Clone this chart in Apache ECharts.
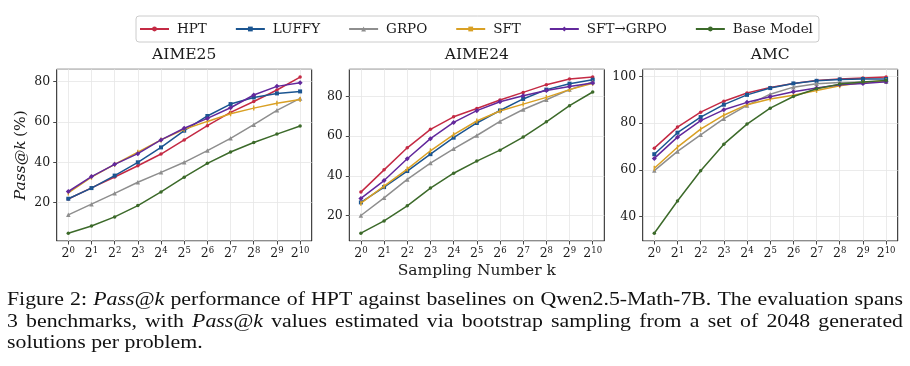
<!DOCTYPE html>
<html><head><meta charset="utf-8">
<script src="https://cdn.jsdelivr.net/npm/echarts@6/dist/echarts.min.js"></script>
<style>html,body{margin:0;padding:0;background:#fff}#c{width:910px;height:366px}</style>
</head><body><div id="c"></div><script>
// ---------- data ----------
const kExponents = ['0','1','2','3','4','5','6','7','8','9','10'];
const benchmarks = ['AIME25', 'AIME24', 'AMC'];
const methods = ['HPT', 'LUFFY', 'GRPO', 'SFT', 'SFT→GRPO', 'Base Model'];

const aime25HPT   = [21.8, 27.3, 32.7, 38.3, 44.1, 51.1, 58.2, 64.8, 70.2, 75.9, 82.3];
const aime25LUFFY = [21.9, 27.2, 33.4, 40.0, 47.4, 55.7, 63.0, 68.9, 72.2, 74.2, 75.2];
const aime25GRPO  = [13.9, 19.2, 24.6, 30.1, 35.0, 40.0, 45.8, 51.9, 58.7, 65.8, 71.7];
const aime25SFT   = [24.8, 32.6, 39.0, 45.0, 51.1, 56.4, 60.3, 64.1, 66.9, 69.3, 71.2];
const aime25SFTGRPO = [25.5, 32.9, 39.0, 44.3, 51.1, 56.9, 61.8, 67.1, 73.4, 77.7, 79.5];
const aime25Base  = [4.8, 8.4, 12.9, 18.5, 25.3, 32.6, 39.5, 45.1, 49.8, 54.0, 58.0];

const aime24HPT   = [31.8, 43.0, 54.1, 63.4, 69.7, 73.9, 78.2, 82.0, 85.9, 88.7, 89.7];
const aime24LUFFY = [26.6, 34.3, 42.4, 50.9, 59.2, 66.6, 72.9, 78.7, 83.4, 86.4, 88.4];
const aime24GRPO  = [20.0, 28.9, 38.2, 46.4, 53.6, 60.3, 67.4, 73.4, 78.3, 83.4, 87.2];
const aime24SFT   = [26.2, 34.8, 43.4, 52.6, 60.7, 67.6, 72.6, 76.1, 79.5, 83.4, 86.6];
const aime24SFTGRPO = [28.6, 37.6, 48.6, 58.7, 66.9, 72.8, 77.3, 80.3, 83.0, 85.0, 86.7];
const aime24Base  = [11.1, 17.3, 24.9, 33.8, 41.3, 47.4, 52.9, 59.5, 67.2, 75.3, 82.2];

const amcHPT   = [69.3, 78.3, 84.7, 89.4, 92.9, 95.3, 97.0, 98.3, 98.9, 99.3, 99.7];
const amcLUFFY = [66.7, 75.9, 82.6, 87.9, 92.1, 95.0, 97.0, 98.1, 98.7, 98.9, 98.9];
const amcGRPO  = [59.7, 67.9, 75.0, 81.9, 87.6, 92.4, 95.4, 96.9, 97.4, 97.6, 97.7];
const amcSFT   = [60.7, 69.7, 77.4, 83.4, 87.9, 90.3, 91.9, 94.0, 96.0, 97.4, 98.1];
const amcSFTGRPO = [64.9, 74.0, 81.1, 85.7, 88.9, 91.3, 93.4, 95.0, 96.4, 97.0, 97.7];
const amcBase  = [32.9, 46.7, 59.6, 71.0, 79.6, 86.4, 91.4, 94.7, 96.7, 97.6, 98.3];

const panelData = [
  [aime25HPT, aime25LUFFY, aime25GRPO, aime25SFT, aime25SFTGRPO, aime25Base],
  [aime24HPT, aime24LUFFY, aime24GRPO, aime24SFT, aime24SFTGRPO, aime24Base],
  [amcHPT, amcLUFFY, amcGRPO, amcSFT, amcSFTGRPO, amcBase]
];

const captionLines = [
  [['Figure', 0], ['2:', 0], ['Pass@k', 1], ['performance', 0], ['of', 0], ['HPT', 0], ['against', 0], ['baselines', 0], ['on', 0], ['Qwen2.5-Math-7B.', 0], ['The', 0], ['evaluation', 0], ['spans', 0]],
  [['3', 0], ['benchmarks,', 0], ['with', 0], ['Pass@k', 1], ['values', 0], ['estimated', 0], ['via', 0], ['bootstrap', 0], ['sampling', 0], ['from', 0], ['a', 0], ['set', 0], ['of', 0], ['2048', 0], ['generated', 0]],
  [['solutions', 0], ['per', 0], ['problem.', 0]]
];

// ---------- styles ----------
const colors = ['#c42a44', '#1b5591', '#8e8e8e', '#d9a024', '#62289c', '#3c6a2a'];
const symbols = ['circle', 'rect', 'triangle', 'path://M0,0L1,0L1,6L0,6Z', 'diamond', 'circle'];
const symbolSizes = [3.5, 4, 4.5, [1.4, 5], 5, 3.5];
const SERIF = '"DejaVu Serif", serif';
const gridLefts = [56.7, 349.3, 642.7];
const GRID_W = 255, GRID_TOP = 69.3, GRID_H = 171.7;
const INK = '#1a1a1a';

function yRange(arrs) {
  const all = [].concat(...arrs);
  const lo = Math.min(...all), hi = Math.max(...all);
  const m = (hi - lo) * 0.05;
  return [lo - m, hi + m];
}

const grids = [], xAxes = [], yAxes = [], series = [], titles = [];
benchmarks.forEach((b, gi) => {
  grids.push({ left: gridLefts[gi], top: GRID_TOP, width: GRID_W, height: GRID_H,
    show: true, borderColor: INK, borderWidth: 1, backgroundColor: 'transparent', containLabel: false });
  xAxes.push({ type: 'category', gridIndex: gi, data: kExponents, boundaryGap: true,
    axisLine: { show: false },
    axisTick: { show: true, alignWithLabel: true, length: 3.5, lineStyle: { color: INK, width: 0.8 } },
    splitLine: { show: true, alignWithLabel: true, lineStyle: { color: '#e6e6e6', width: 0.8 } },
    axisLabel: { interval: 0, margin: 5, color: INK,
      formatter: v => '{b|2}{e|' + v + '}',
      rich: { b: { fontFamily: SERIF, fontSize: 12.5, color: INK },
              e: { fontFamily: SERIF, fontSize: 8.5, color: INK, padding: [0, 0, 6, 0] } } } });
  const r = yRange(panelData[gi]);
  yAxes.push({ type: 'value', gridIndex: gi, min: r[0], max: r[1], minInterval: 20, maxInterval: 20,
    axisLine: { show: false },
    axisTick: { show: true, length: 3.5, lineStyle: { color: INK, width: 0.8 } },
    splitLine: { show: true, lineStyle: { color: '#e6e6e6', width: 0.8 } },
    axisLabel: { showMinLabel: false, showMaxLabel: false, margin: 6.5, fontFamily: SERIF, fontSize: 12.5, color: INK } });
  titles.push({ text: b, left: gridLefts[gi] + GRID_W / 2, top: 47, textAlign: 'center', padding: 0,
    textStyle: { fontFamily: SERIF, fontSize: 15.5, fontWeight: 'normal', color: INK } });
  methods.forEach((m, si) => {
    series.push({ type: 'line', name: m, xAxisIndex: gi, yAxisIndex: gi, data: panelData[gi][si],
      symbol: symbols[si], symbolSize: symbolSizes[si], showSymbol: true, smooth: false,
      color: colors[si], lineStyle: { width: 1.5, color: colors[si] },
      itemStyle: { color: colors[si], borderWidth: 0 }, animation: false, z: 2 + si });
  });
});

// ---------- caption (justified words) ----------
const CAP_FONT = '"Liberation Serif", serif';
const CAP_SIZE = 19.5;
const CAP_X0 = 7, CAP_X1 = 903, capBaselines = [310, 332, 353];
const cv = document.createElement('canvas').getContext('2d');
function wWidth(t, it) { cv.font = (it ? 'italic ' : '') + CAP_SIZE + 'px ' + CAP_FONT; return cv.measureText(t).width; }
function lineWidth(words) {
  let w = 0; words.forEach(p => w += wWidth(p[0], p[1]));
  return w + (words.length - 1) * wWidth(' ', 0);
}
const capScale = Math.max(1, Math.min(1.2, 0.99 * (CAP_X1 - CAP_X0) / lineWidth(captionLines[0])));
const graphics = [];
captionLines.forEach((words, li) => {
  const widths = words.map(p => wWidth(p[0], p[1]) * capScale);
  const total = widths.reduce((a, c) => a + c, 0);
  const justify = li < captionLines.length - 1;
  const gap = justify ? (CAP_X1 - CAP_X0 - total) / (words.length - 1) : wWidth(' ', 0) * capScale;
  let x = CAP_X0;
  words.forEach((p, wi) => {
    graphics.push({ type: 'text', x: x, y: capBaselines[li], scaleX: capScale, silent: true,
      style: { text: p[0], fontFamily: CAP_FONT, fontSize: CAP_SIZE, fontStyle: p[1] ? 'italic' : 'normal',
        fill: '#111', align: 'left', verticalAlign: 'bottom' } });
    x += widths[wi] + gap;
  });
});
// y label
graphics.push({ type: 'text', x: 21, y: 155.2, rotation: Math.PI / 2, silent: true,
  style: { text: '{i|Pass@k} {n|(%)}', align: 'center', verticalAlign: 'middle',
    rich: { i: { fontFamily: SERIF, fontStyle: 'italic', fontSize: 15.5, fill: INK },
            n: { fontFamily: SERIF, fontSize: 15.5, fill: INK } } } });
// x label
graphics.push({ type: 'text', x: gridLefts[1] + GRID_W / 2, y: 271, silent: true,
  style: { text: 'Sampling Number k', fontFamily: SERIF, fontSize: 15.5, fill: INK, align: 'center', verticalAlign: 'middle' } });

const chart = echarts.init(document.getElementById('c'), null, { renderer: 'canvas' });
chart.setOption({
  animation: false,
  backgroundColor: '#ffffff',
  title: titles,
  legend: { data: methods, left: 136, top: 16, orient: 'horizontal',
    padding: [6, 6, 6, 3], itemWidth: 29, itemHeight: 6, itemGap: 28,
    borderColor: '#cccccc', borderWidth: 1, borderRadius: 3, backgroundColor: '#fff',
    textStyle: { fontFamily: SERIF, fontSize: 13.5, color: INK, padding: [0, 0, 0, 3] } },
  grid: grids, xAxis: xAxes, yAxis: yAxes, series: series, graphic: graphics
});
</script></body></html>
